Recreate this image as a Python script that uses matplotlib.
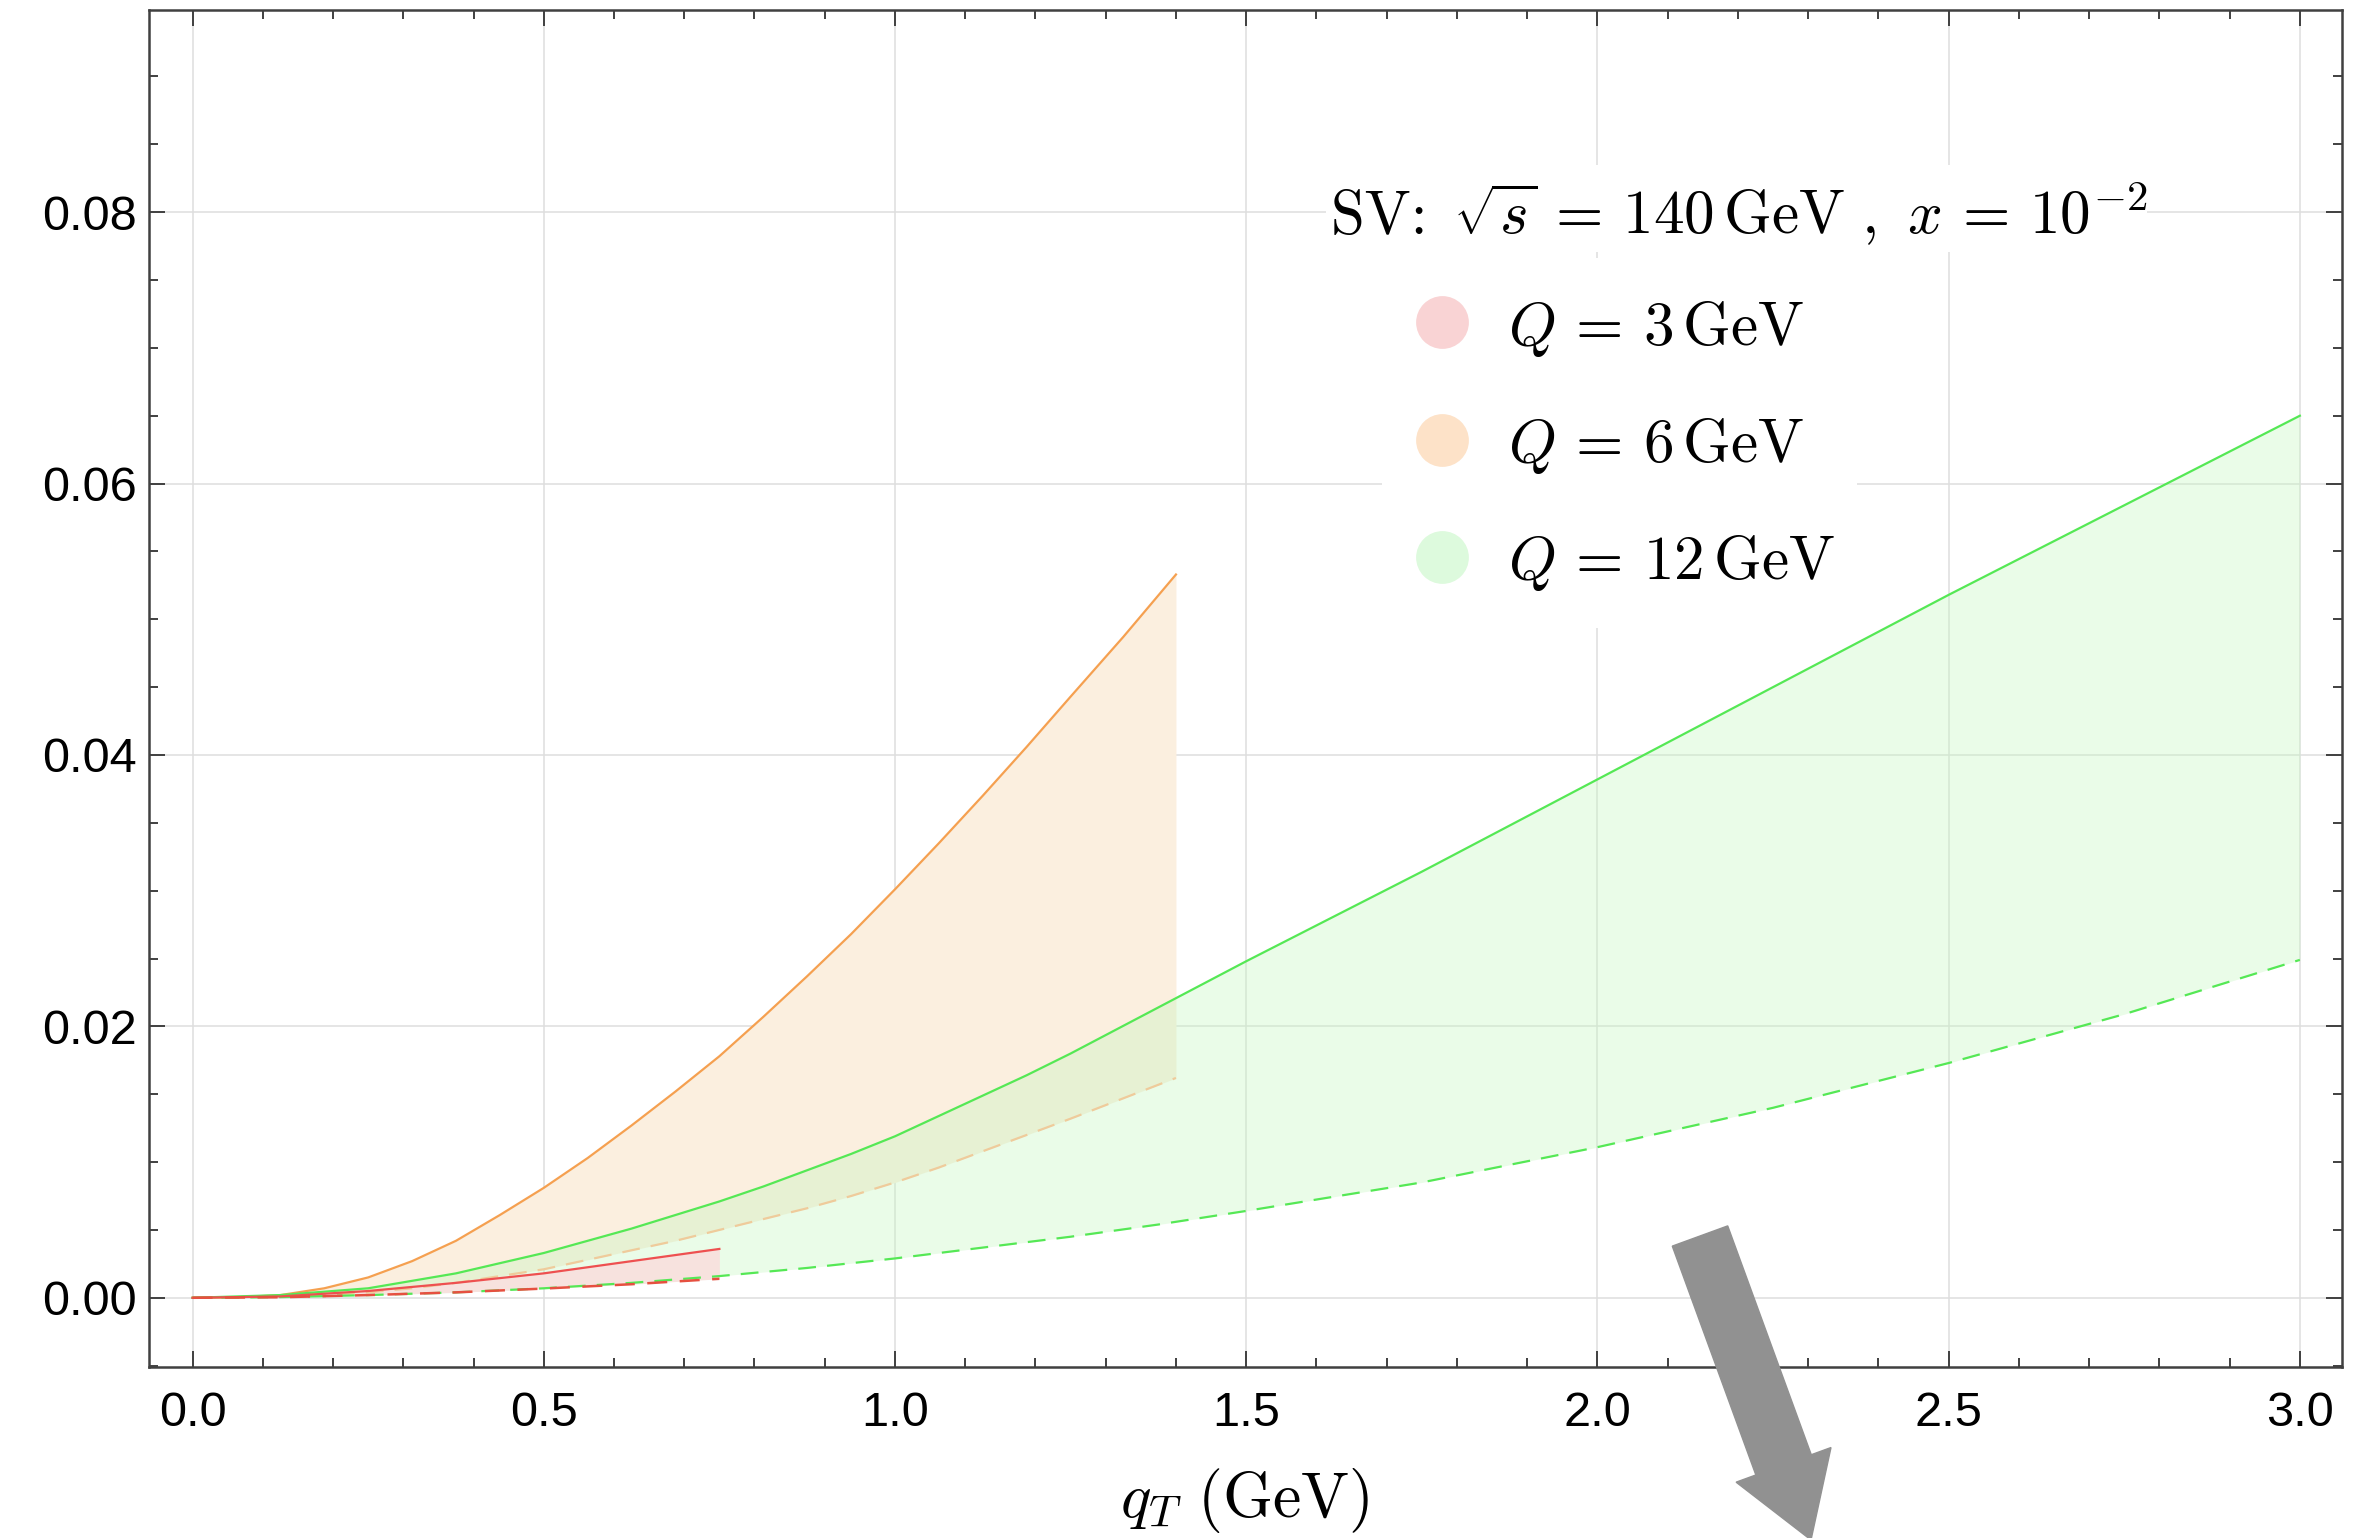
import matplotlib
matplotlib.use("Agg")
import matplotlib.pyplot as plt
from matplotlib.lines import Line2D
from matplotlib.patches import Rectangle, FancyArrow
from matplotlib.ticker import MultipleLocator

plt.rcParams['mathtext.fontset'] = 'cm'
plt.rcParams['font.family'] = ['Liberation Sans', 'DejaVu Sans']

# ---------------- data ----------------
q3_x = [0.0, 0.125, 0.25, 0.375, 0.5, 0.625, 0.75]
q3_hi = [0.0, 0.0001, 0.0005, 0.0011, 0.0018, 0.0027, 0.0036]
q3_lo = [0.0, 0.00004, 0.0002, 0.0004, 0.00068, 0.0010, 0.0014]

q6_x = [0.0, 0.0625, 0.125, 0.1875, 0.25, 0.3125, 0.375, 0.4375, 0.5, 0.5625, 0.625, 0.6875,
        0.75, 0.8125, 0.875, 0.9375, 1.0, 1.0625, 1.125, 1.1875, 1.25, 1.325, 1.4]
q6_hi = [0.0, 0.00003, 0.0002, 0.0007, 0.0015, 0.0027, 0.0042, 0.0061, 0.0081, 0.0103, 0.0127,
         0.0152, 0.0178, 0.0207, 0.0237, 0.0268, 0.0301, 0.0335, 0.0370, 0.0406, 0.0443, 0.0487,
         0.0533]
q6_lo = [0.0, 0.00001, 0.0001, 0.0002, 0.0004, 0.0007, 0.0011, 0.0016, 0.0021, 0.0028, 0.0035,
         0.0042, 0.0050, 0.0058, 0.0066, 0.0075, 0.0085, 0.0096, 0.0108, 0.0120, 0.0132, 0.0147,
         0.0162]

q12_x = [0.0, 0.125, 0.25, 0.375, 0.5, 0.5625, 0.625, 0.6875, 0.75, 0.8125, 0.875, 0.9375, 1.0,
         1.0625, 1.125, 1.1875, 1.25, 1.375, 1.5, 1.75, 2.0, 2.25, 2.5, 2.75, 3.0]
q12_hi = [0.0, 0.0002, 0.0007, 0.0018, 0.0033, 0.0042, 0.0051, 0.0061, 0.0071, 0.0082, 0.0094,
          0.0106, 0.0119, 0.0134, 0.0149, 0.0164, 0.0180, 0.0214, 0.0248, 0.0314, 0.0382, 0.0450,
          0.0518, 0.0584, 0.0650]
q12_lo = [0.0, 0.00005, 0.0002, 0.0004, 0.0007, 0.0009, 0.0011, 0.00135, 0.0016, 0.0019, 0.0022,
          0.00255, 0.0029, 0.0033, 0.0037, 0.0041, 0.0045, 0.0054, 0.0064, 0.0085, 0.0111, 0.0140,
          0.0173, 0.0209, 0.0249]

legend_labels = [r'$Q\,=\,3\,\mathrm{GeV}$', r'$Q\,=\,6\,\mathrm{GeV}$', r'$Q\,=\,12\,\mathrm{GeV}$']
legend_title = r'$\sqrt{s}\,=\,140\,\mathrm{GeV}\ ,\ x\,=\,10^{-2}$'
legend_colors = ['#F9D3D4', '#FDE2C8', '#DDFADD']
x_ticks = [0.0, 0.5, 1.0, 1.5, 2.0, 2.5, 3.0]
y_ticks = [0.00, 0.02, 0.04, 0.06, 0.08]

# ---------------- figure ----------------
W, H = 2372, 1538
fig = plt.figure(figsize=(W / 100, H / 100), dpi=100)
ax = fig.add_axes([149 / W, 1 - 1367 / H, (2342 - 149) / W, (1367 - 10) / H])

def fx(px):
    return px / W

def fy(py):
    return 1 - py / H

c_red, c_orange, c_green = '#EE5050', '#F5A050', '#55E855'

# orange band
ax.fill_between(q6_x, q6_lo, q6_hi, color='#FBEFDF', lw=0, zorder=2)
ax.plot(q6_x, q6_hi, color=c_orange, lw=1.6, zorder=5)
# green band
ax.fill_between(q12_x, q12_lo, q12_hi, color='#C6F7C1', alpha=0.37, lw=0, zorder=3)
ax.plot(q6_x, q6_lo, color='#EFCB9B', lw=1.6, dashes=(8, 5), zorder=4)
ax.plot(q12_x, q12_hi, color=c_green, lw=1.6, zorder=5)
ax.plot(q12_x, q12_lo, color=c_green, lw=1.6, dashes=(8, 5), zorder=5)
# red band
ax.fill_between(q3_x, q3_lo, q3_hi, color='#F7E2DE', lw=0, zorder=3.5)
ax.plot(q3_x, q3_hi, color=c_red, lw=1.6, zorder=6)
ax.plot(q3_x, q3_lo, color='#E65040', lw=1.8, dashes=(8, 5), zorder=6)

ax.set_xlim(-0.062, 3.06)
ax.set_ylim(-0.0051, 0.0949)
ax.set_xticks(x_ticks)
ax.set_yticks(y_ticks)
ax.set_xticklabels([f'{v:.1f}' for v in x_ticks])
ax.set_yticklabels([f'{v:.2f}' for v in y_ticks])
ax.xaxis.set_minor_locator(MultipleLocator(0.1))
ax.yaxis.set_minor_locator(MultipleLocator(0.005))

spine_col = '#404040'
for s in ax.spines.values():
    s.set_color(spine_col)
    s.set_linewidth(1.8)
ax.tick_params(which='both', direction='in', top=True, right=True, color=spine_col,
               width=1.4, labelsize=35)
ax.tick_params(which='major', length=11.5)
ax.tick_params(which='minor', length=6.5)
ax.tick_params(axis='x', pad=17)
ax.tick_params(axis='y', pad=9)

ax.set_axisbelow(True)
ax.grid(True, which='major', color='#DEDEDE', lw=1.1, zorder=0.5)

# x label
fig.text(fx(1245), fy(1517), r'$q_T\ (\mathrm{GeV})$', ha='center', va='baseline', fontsize=46)

# legend: white boxes, title, entries
ax.add_patch(Rectangle((fx(1326), fy(252)), fx(2147) - fx(1326), fy(165) - fy(252),
                       transform=fig.transFigure, facecolor='white', edgecolor='none',
                       zorder=1, clip_on=False))
ax.add_patch(Rectangle((fx(1382), fy(628)), fx(1857) - fx(1382), fy(258) - fy(628),
                       transform=fig.transFigure, facecolor='white', edgecolor='none',
                       zorder=1, clip_on=False))
t1 = fig.text(fx(1331), fy(234), 'SV: ', fontfamily='cmr10', fontsize=44, va='baseline', ha='left')
fig.canvas.draw()
bb = t1.get_window_extent()
fig.text(bb.x1 / W + 0.002, fy(234), legend_title, fontsize=44, va='baseline', ha='left')

row_y_circ = [322, 440, 557]
row_y_text = [345, 462, 579]
for lab, col, yc, yt in zip(legend_labels, legend_colors, row_y_circ, row_y_text):
    fig.add_artist(Line2D([fx(1442)], [fy(yc)], marker='o', markersize=38, color=col,
                          markeredgewidth=0, linestyle='none', transform=fig.transFigure))
    fig.text(fx(1508), fy(yt), lab, fontsize=44, va='baseline', ha='left')

# grey arrow
arrow = FancyArrow(17.00, (H - 1236) / 100, 1.11, -3.04, width=0.59, head_width=1.01,
                   head_length=0.80, length_includes_head=True, color='#919191',
                   transform=fig.dpi_scale_trans, zorder=10)
fig.add_artist(arrow)

fig.savefig('out.png', dpi=100)
